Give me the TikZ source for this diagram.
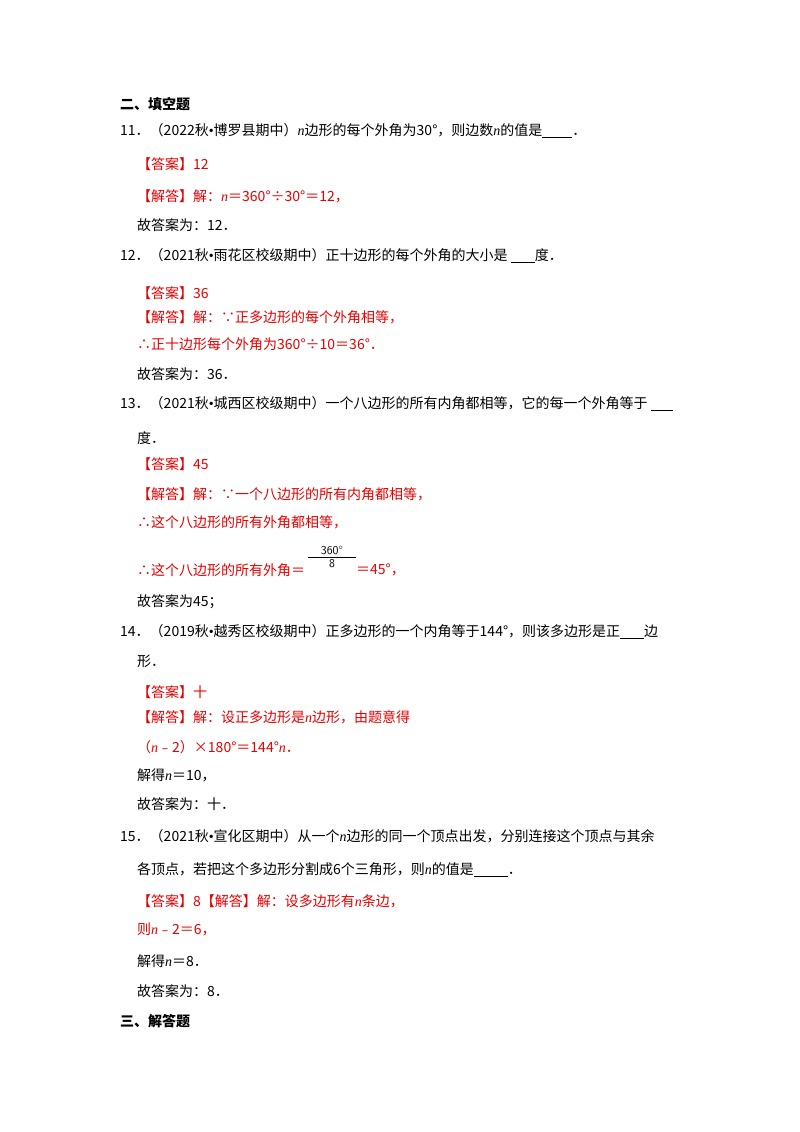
\documentclass[tikz,border=0pt]{standalone}
\usepackage{fontspec}
\setmainfont{Noto Sans CJK SC}
\newfontfamily\lat{Liberation Serif}
\newcommand{\ii}{{\lat\itshape n}}
\newcommand{\bu}{{\lat •}}
\newcommand{\bl}[1]{\rule[-2pt]{#1}{1.2pt}}
\definecolor{ansred}{RGB}{230,0,0}
\begin{document}
\begin{tikzpicture}[x=1pt,y=-1pt,
  t/.style={anchor=west,inner sep=0,font=\fontsize{14}{16}\selectfont},
  r/.style={t,text=ansred}]
\useasboundingbox[fill=white] (0,0) rectangle (800,1132);
\node[t,font=\fontsize{14}{16}\selectfont\bfseries] (h1) at (120,104) {二、填空题};
\node[t] (q11) at (120,131) {11．（2022秋\bu 博罗县期中）\ii 边形的每个外角为30°，则边数\ii 的值是\bl{30pt}．};
\node[r] (a11) at (137,164) {【答案】12};
\node[r] (b11) at (137,196) {【解答】解：\ii ＝360°÷30°＝12，};
\node[t] (c11) at (137,225) {故答案为：12．};
\node[t] (q12) at (120,256) {12．（2021秋\bu 雨花区校级期中）正十边形的每个外角的大小是 \bl{24pt}度．};
\node[r] (a12) at (137,293) {【答案】36};
\node[r] (b12) at (137,317) {【解答】解：∵正多边形的每个外角相等，};
\node[r] (d12) at (137,344) {∴正十边形每个外角为360°÷10＝36°．};
\node[t] (c12) at (137,374) {故答案为：36．};
\node[t] (q13) at (120,404) {13．（2021秋\bu 城西区校级期中）一个八边形的所有内角都相等，它的每一个外角等于 \bl{22pt}};
\node[t] (q13b) at (137,438) {度．};
\node[r] (a13) at (137,464) {【答案】45};
\node[r] (b13) at (137,494) {【解答】解：∵一个八边形的所有内角都相等，};
\node[r] (d13) at (137,522) {∴这个八边形的所有外角都相等，};
\node[r] (e13) at (137,570) {∴这个八边形的所有外角＝};
\node[anchor=south,inner sep=1pt,font=\sffamily\fontsize{12}{13}\selectfont] (num) at (332,556) {360°};
\draw[line width=0.8pt] (308,557) -- (356,557);
\node[anchor=north,inner sep=1pt,font=\sffamily\fontsize{12}{13}\selectfont] (den) at (332,558) {8};
\node[r] (f13) at (356,570) {＝45°，};
\node[t] (c13) at (137,602) {故答案为45；};
\node[t] (q14) at (120,632) {14．（2019秋\bu 越秀区校级期中）正多边形的一个内角等于144°，则该多边形是正\bl{24pt}边};
\node[t] (q14b) at (137,661) {形．};
\node[r] (a14) at (137,692) {【答案】十};
\node[r] (b14) at (137,717) {【解答】解：设正多边形是\ii 边形，由题意得};
\node[r] (d14) at (137,747) {（\ii ﹣2）×180°＝144°\ii．};
\node[t] (e14) at (137,775) {解得\ii ＝10，};
\node[t] (c14) at (137,804) {故答案为：十．};
\node[t] (q15) at (120,836) {15．（2021秋\bu 宣化区期中）从一个\ii 边形的同一个顶点出发，分别连接这个顶点与其余};
\node[t] (q15b) at (137,870) {各顶点，若把这个多边形分割成6个三角形，则\ii 的值是\bl{34pt}．};
\node[r] (a15) at (137,901) {【答案】8【解答】解：设多边形有\ii 条边，};
\node[r] (b15) at (137,929) {则\ii ﹣2＝6，};
\node[t] (d15) at (137,961) {解得\ii ＝8．};
\node[t] (c15) at (137,991) {故答案为：8．};
\node[t,font=\fontsize{14}{16}\selectfont\bfseries] (h2) at (120,1021) {三、解答题};
\end{tikzpicture}
\end{document}
